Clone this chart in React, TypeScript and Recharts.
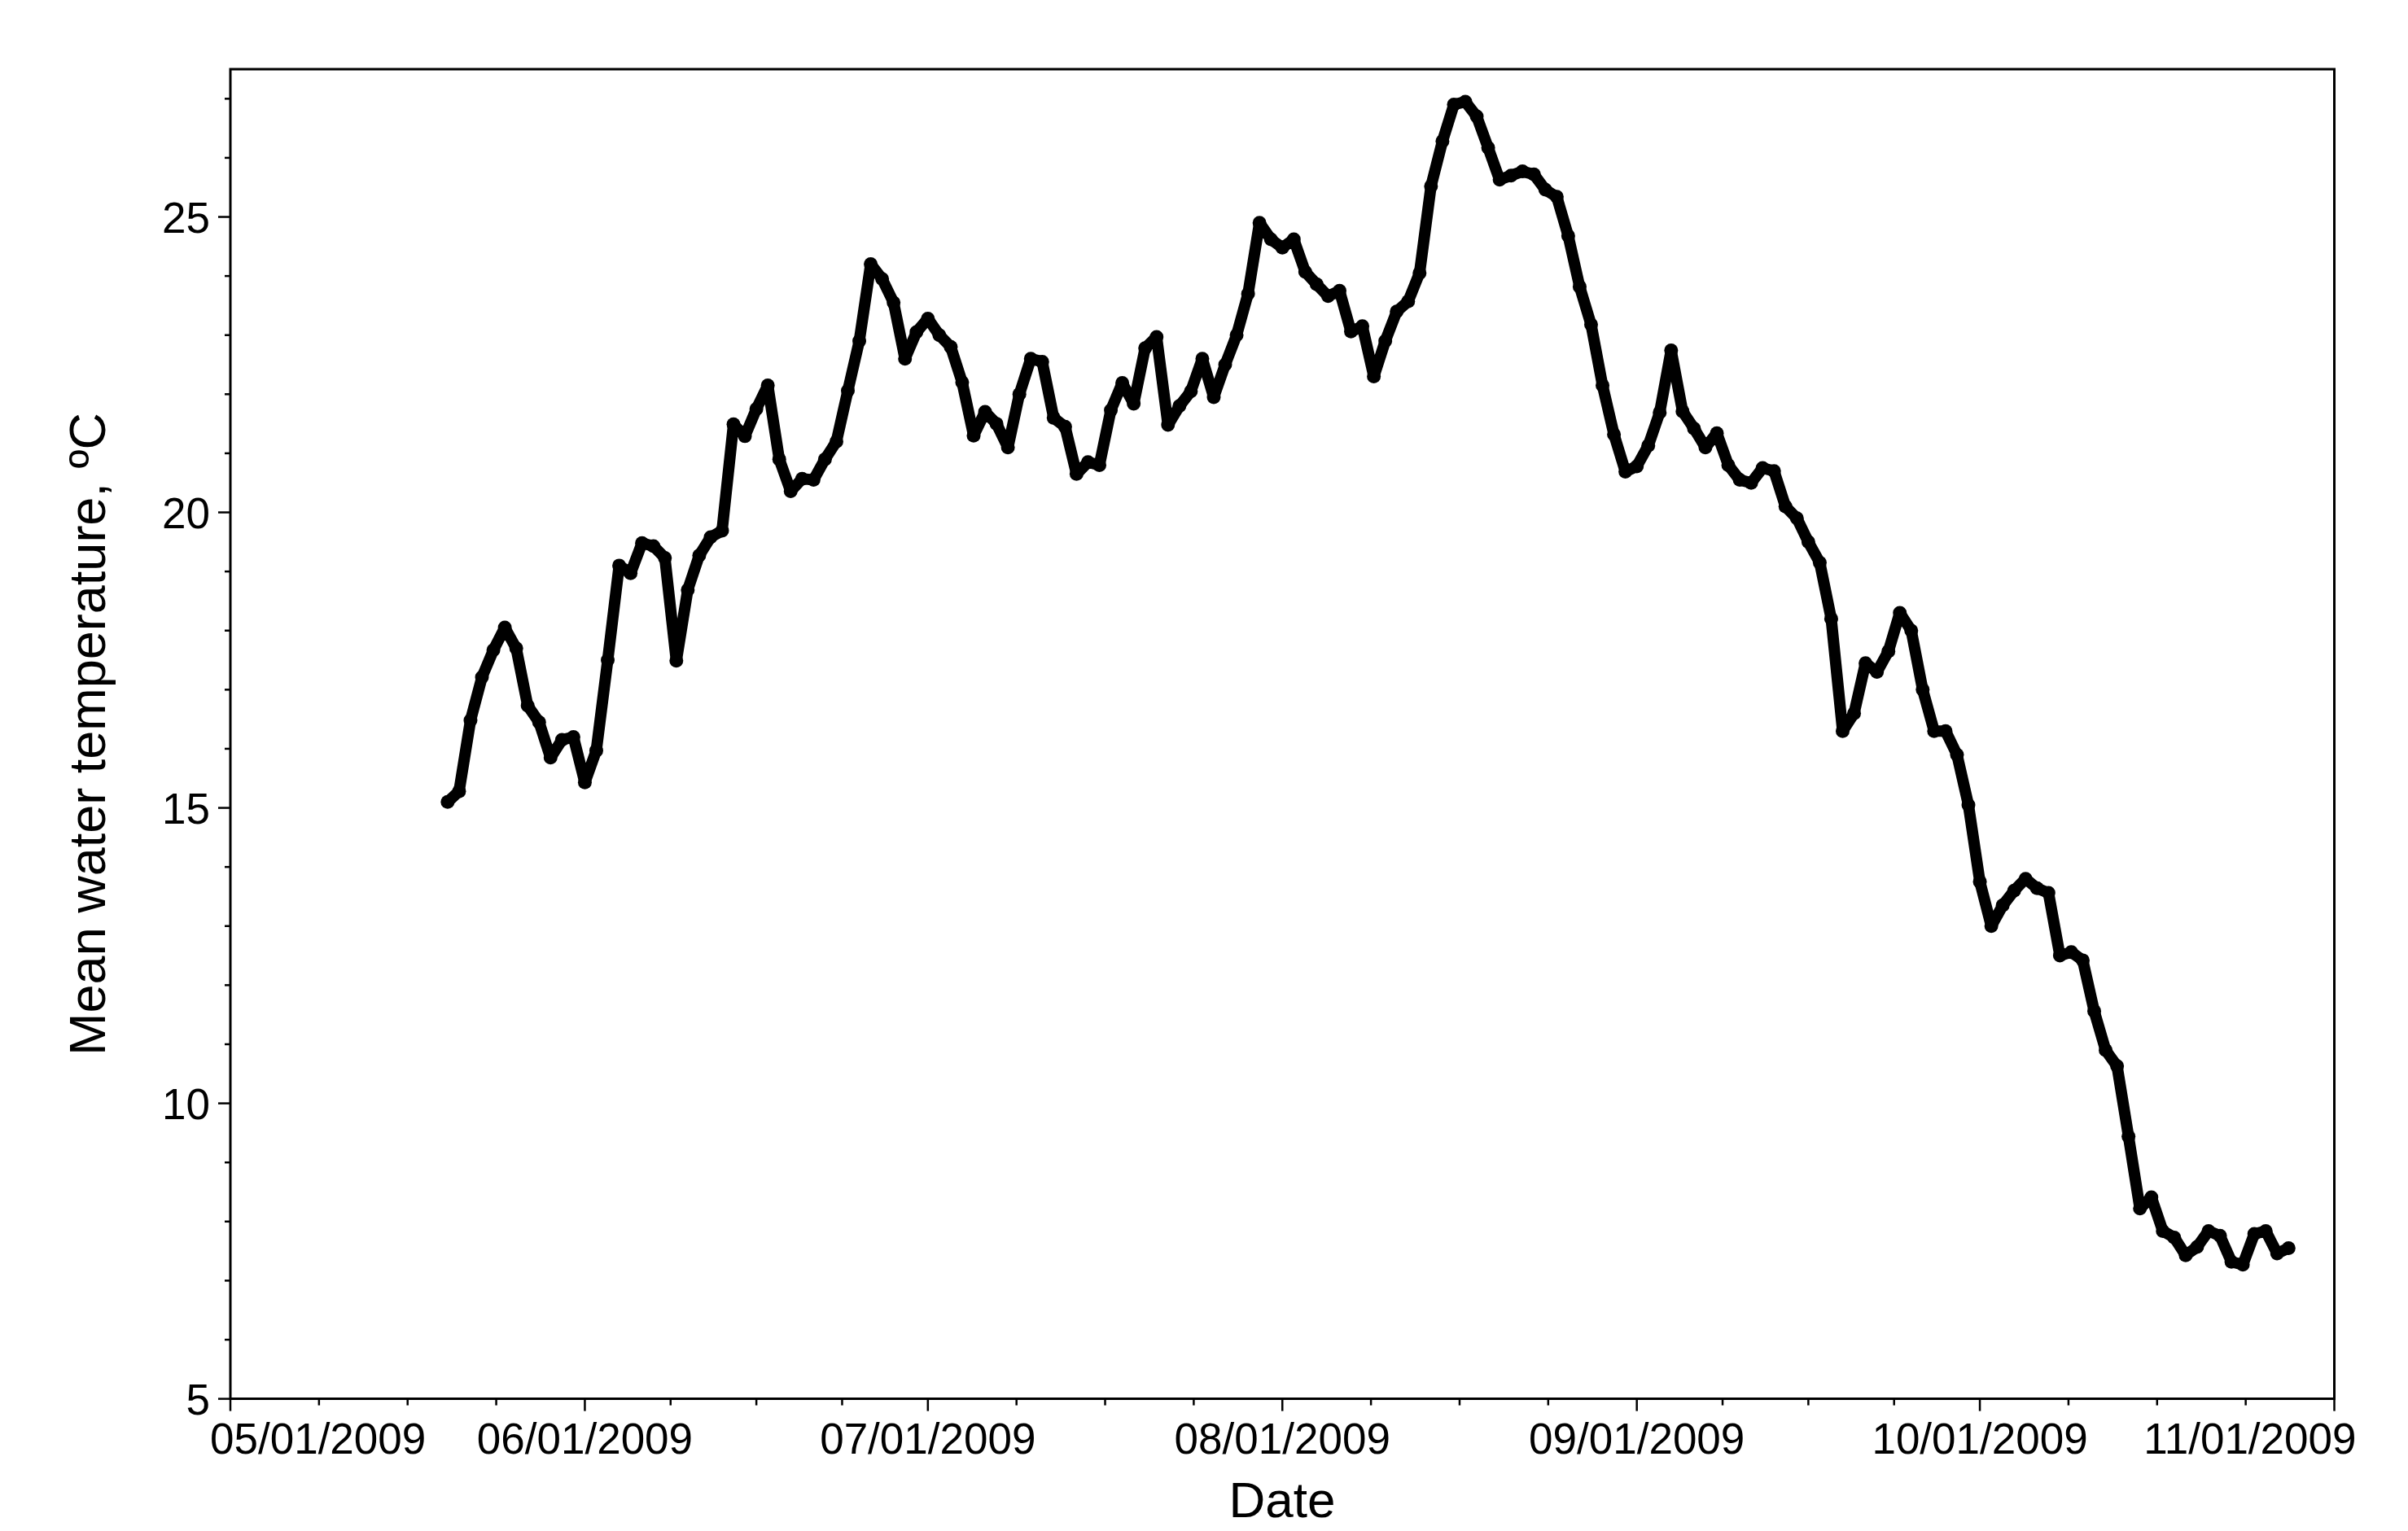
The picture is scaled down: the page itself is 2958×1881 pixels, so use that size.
import React from 'react';
import { LineChart, Line, XAxis, YAxis, ReferenceArea, Label } from 'recharts';

// Days counted from 05/01/2009
const monthStartDays = [0, 31, 61, 92, 123, 153, 184];
const monthLabels = ['05/01/2009', '06/01/2009', '07/01/2009', '08/01/2009', '09/01/2009', '10/01/2009', '11/01/2009'];
const firstRecordDay = 19; // 05/20/2009, then one value per day
const meanWaterTemp = [
  15.1, 15.28, 16.48, 17.21, 17.67, 18.05, 17.7, 16.73, 16.45, 15.85,
  16.15, 16.2, 15.43, 15.97, 17.5, 19.1, 18.97, 19.48, 19.43, 19.23,
  17.49, 18.69, 19.27, 19.58, 19.69, 21.49, 21.29, 21.75, 22.15, 20.9,
  20.36, 20.57, 20.55, 20.9, 21.2, 22.06, 22.9, 24.2, 23.95, 23.55,
  22.6, 23.05, 23.28, 23.0, 22.8, 22.2, 21.3, 21.7, 21.5, 21.1,
  22.0, 22.6, 22.55, 21.6, 21.45, 20.65, 20.85, 20.8, 21.73, 22.19,
  21.84, 22.78, 22.97, 21.48, 21.8, 22.05, 22.6, 21.95, 22.5, 23.0,
  23.7, 24.9, 24.62, 24.48, 24.62, 24.07, 23.86, 23.66, 23.75, 23.06,
  23.15, 22.3, 22.9, 23.4, 23.57, 24.05, 25.52, 26.28, 26.9, 26.95,
  26.7, 26.17, 25.63, 25.7, 25.77, 25.72, 25.46, 25.34, 24.68, 23.82,
  23.18, 22.15, 21.32, 20.69, 20.78, 21.13, 21.69, 22.74, 21.71, 21.42,
  21.1, 21.34, 20.8, 20.55, 20.5, 20.75, 20.7, 20.1, 19.9, 19.5,
  19.15, 18.2, 16.3, 16.6, 17.45, 17.3, 17.65, 18.3, 18.0, 17.0,
  16.3, 16.3, 15.9, 15.05, 13.75, 13.0, 13.35, 13.6, 13.8, 13.64,
  13.56, 12.5, 12.56, 12.42, 11.56, 10.9, 10.63, 9.44, 8.22, 8.41,
  7.84, 7.73, 7.43, 7.57, 7.84, 7.76, 7.32, 7.27, 7.79, 7.84,
  7.46, 7.55,
];
const yMajorTicks = [5, 10, 15, 20, 25];
const yMinorTicks = [5, 6, 7, 8, 9, 10, 11, 12, 13, 14, 15, 16, 17, 18, 19, 20, 21, 22, 23, 24, 25, 26, 27];
const yDomain = [5, 27.5];
const xTitle = 'Date';
const yTitle = 'Mean water temperature, ºC';

const data = meanWaterTemp.map((t, i) => ({ day: firstRecordDay + i, temp: t }));

// quarter-month minor ticks plus month starts
const xTicks: number[] = [];
for (let i = 0; i < monthStartDays.length - 1; i++) {
  const a = monthStartDays[i];
  const b = monthStartDays[i + 1];
  for (let k = 0; k < 4; k++) xTicks.push(a + ((b - a) * k) / 4);
}
xTicks.push(monthStartDays[monthStartDays.length - 1]);

const FONT = '"Liberation Sans", Arial, Helvetica, sans-serif';

const XTick = (props: any) => {
  const { x, y, payload } = props;
  const idx = monthStartDays.indexOf(payload.value);
  const major = idx >= 0;
  let anchor: any = 'middle';
  let dx = 0;
  if (idx === 0) {
    anchor = 'start';
    dx = -25;
  } else if (idx === monthStartDays.length - 1) {
    anchor = 'end';
    dx = 27;
  }
  return (
    <g>
      <line x1={x} y1={y} x2={x} y2={y + (major ? 15 : 8)} stroke="#000" strokeWidth={2.5} />
      {major && (
        <text x={x + dx} y={y + 67} textAnchor={anchor} fontSize={53} fontFamily={FONT} fill="#000">
          {monthLabels[idx]}
        </text>
      )}
    </g>
  );
};

const YTick = (props: any) => {
  const { x, y, payload } = props;
  const major = yMajorTicks.includes(payload.value);
  return (
    <g>
      <line x1={x} y1={y} x2={x - (major ? 15 : 7)} y2={y} stroke="#000" strokeWidth={2.5} />
      {major && (
        <text x={x - 25} y={y} dy="0.36em" textAnchor="end" fontSize={53} fontFamily={FONT} fill="#000">
          {payload.value}
        </text>
      )}
    </g>
  );
};

const XTitle = () => (
  <text x={1575} y={1864} textAnchor="middle" fontSize={62} fontFamily={FONT} fill="#000">
    {xTitle}
  </text>
);

const YTitle = () => (
  <text
    x={129}
    y={902}
    textAnchor="middle"
    fontSize={63}
    fontFamily={FONT}
    fill="#000"
    transform="rotate(-90 129 902)"
  >
    {yTitle}
  </text>
);

export default function App() {
  return (
    <div style={{ position: 'absolute', left: 0, top: 0, width: 2958, height: 1881, background: '#fff' }}>
      <LineChart
        width={2958}
        height={1881}
        data={data}
        margin={{ top: 85, right: 90.5, left: 83, bottom: 12.4 }}
      >
        <XAxis
          dataKey="day"
          type="number"
          domain={[0, 184]}
          ticks={xTicks}
          interval={0}
          tickSize={0}
          tickMargin={0}
          tickLine={false}
          axisLine={false}
          height={150}
          tick={<XTick />}
          allowDataOverflow
        >
          <Label content={<XTitle />} />
        </XAxis>
        <YAxis
          type="number"
          domain={yDomain}
          ticks={yMinorTicks}
          interval={0}
          tickSize={0}
          tickMargin={0}
          tickLine={false}
          axisLine={false}
          width={200}
          tick={<YTick />}
          allowDataOverflow
        >
          <Label content={<YTitle />} />
        </YAxis>
        <ReferenceArea
          x1={0}
          x2={184}
          y1={5}
          y2={27.5}
          fill="none"
          fillOpacity={0}
          stroke="#000"
          strokeWidth={3}
        />
        <Line
          type="linear"
          dataKey="temp"
          stroke="#000"
          strokeWidth={14}
          strokeLinejoin="round"
          strokeLinecap="round"
          dot={{ r: 8.5, fill: '#000', stroke: '#000', strokeWidth: 0 }}
          activeDot={false}
          isAnimationActive={false}
        />
      </LineChart>
    </div>
  );
}
